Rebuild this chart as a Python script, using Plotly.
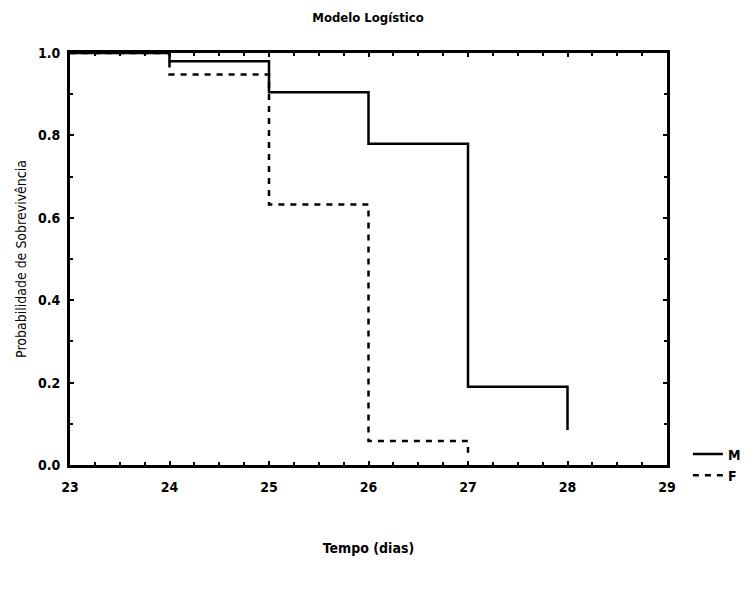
import plotly.graph_objects as go

days_m = [23, 24, 25, 26, 27, 28]
surv_m = [1.0, 0.98, 0.905, 0.78, 0.19, 0.085]
days_f = [23, 24, 25, 26, 27]
surv_f = [1.0, 0.948, 0.632, 0.058, 0.03]
x_ticks = [23, 24, 25, 26, 27, 28, 29]
y_ticks = [0.0, 0.2, 0.4, 0.6, 0.8, 1.0]

FONT = "DejaVu Sans Condensed, Liberation Sans Narrow, Arial Narrow, sans-serif"

fig = go.Figure()
fig.add_trace(go.Scatter(x=days_m, y=surv_m, mode="lines", name="M",
                         line=dict(shape="hv", color="black", width=2.5)))
fig.add_trace(go.Scatter(x=days_f, y=surv_f, mode="lines", name="F",
                         line=dict(shape="hv", color="black", width=2.5, dash="6px,6px")))

tickfont = dict(family=FONT, size=14, color="black", weight="bold")
axis_common = dict(showline=True, linecolor="black", linewidth=3, mirror="allticks",
                   ticks="inside", ticklen=4, tickwidth=1.5, tickcolor="black",
                   showgrid=False, zeroline=False, tickfont=tickfont)

fig.update_xaxes(range=[23, 29], tickvals=x_ticks, ticktext=[str(v) for v in x_ticks],
                 minor=dict(dtick=0.25, ticks="inside", ticklen=3, tickcolor="black"),
                 ticklabelstandoff=7,
                 title=dict(text="Tempo (dias)",
                            font=dict(family=FONT, size=14, color="black", weight="bold"),
                            standoff=50),
                 **axis_common)
fig.update_yaxes(range=[0, 1], tickvals=y_ticks, ticktext=[f"{v:.1f}" for v in y_ticks],
                 minor=dict(dtick=0.1, ticks="inside", ticklen=3, tickcolor="black"),
                 ticklabelstandoff=4,
                 title=dict(text="Probabilidade de Sobrevivência",
                            font=dict(family=FONT, size=14, color="black"),
                            standoff=8),
                 **axis_common)

fig.update_layout(
    width=748, height=593,
    margin=dict(l=70, r=81, t=53, b=128, autoexpand=False),
    paper_bgcolor="white", plot_bgcolor="white",
    title=dict(text="Modelo Logístico", x=0.492, xanchor="center", y=0.978, yanchor="top",
               font=dict(family=FONT, size=13, color="black", weight="bold")),
    legend=dict(x=1.035, y=0.0, xanchor="left", yanchor="middle",
                font=dict(family=FONT, size=14, color="black", weight="bold"),
                bgcolor="rgba(0,0,0,0)", itemwidth=30, tracegroupgap=0),
    showlegend=True,
)

fig.write_html("out.html")
